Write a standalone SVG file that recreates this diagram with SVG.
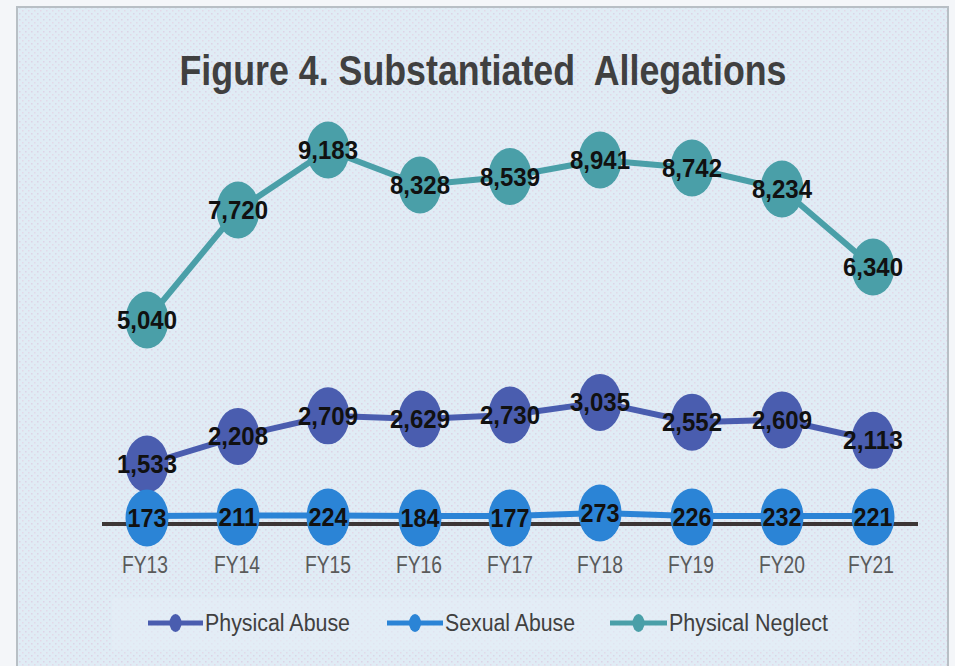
<svg xmlns="http://www.w3.org/2000/svg" width="955" height="666" viewBox="0 0 955 666">
<defs>
<pattern id="dots" x="0" y="0" width="6" height="6" patternUnits="userSpaceOnUse">
<rect width="6" height="6" fill="#e0ecf5"/>
<rect x="1" y="1" width="1.5" height="1.5" fill="#ddd3e6"/>
<rect x="4" y="4" width="1.5" height="1.5" fill="#e3d8e8"/>
</pattern>
<style>
.lbl{font-family:"Liberation Sans",Arial,sans-serif;font-size:25px;font-weight:bold;fill:#111;text-anchor:middle}
.ax{font-family:"Liberation Sans",Arial,sans-serif;font-size:24px;fill:#5a5a5a;text-anchor:middle}
.lg{font-family:"Liberation Sans",Arial,sans-serif;font-size:23px;fill:#404040}
.pn{fill:#4a9fa8}
.pa{fill:#4a5daf}
.sa{fill:#2b84d6}
.ln{fill:none;stroke-width:6;stroke-linejoin:round;stroke-linecap:round}
</style>
</defs>
<rect width="955" height="666" fill="#f4f6f9"/>
<rect x="17" y="7" width="931" height="680" fill="url(#dots)" stroke="#b8bfc5" stroke-width="2"/>
<text x="483" y="85" xml:space="preserve" textLength="607" lengthAdjust="spacingAndGlyphs" style="font-family:'Liberation Sans',Arial,sans-serif;font-size:42px;font-weight:bold;fill:#404040" text-anchor="middle">Figure 4. Substantiated  Allegations</text>
<rect x="112" y="598" width="746" height="52" fill="#e4eef6" opacity="0.6"/>
<line x1="102" y1="524" x2="918" y2="524" stroke="#3d3636" stroke-width="4"/>
<g id="connectors">
<polyline class="ln" stroke="#4a9fa8" points="147,320 238,210 328,150 420,185 510,176.5 600,160 692,168 782,189 873,267"/>
<polyline class="ln" stroke="#4a5daf" points="147,464 238,436.4 328,415.8 420,419 510,415 600,402.4 692,422.2 782,419.9 873,440.3"/>
<polyline class="ln" stroke="#2b84d6" points="147,516 238,515.5 328,515.5 420,516 510,516 600,513 692,516 782,516 873,516"/>
</g>
<g id="neglect">
<g id="pn13"><ellipse class="pn" cx="147" cy="320" rx="21.5" ry="28.5"/><text class="lbl" x="147" y="329" textLength="60" lengthAdjust="spacingAndGlyphs">5,040</text></g>
<g id="pn14"><ellipse class="pn" cx="238" cy="210" rx="21.5" ry="28.5"/><text class="lbl" x="238" y="219" textLength="60" lengthAdjust="spacingAndGlyphs">7,720</text></g>
<g id="pn15"><ellipse class="pn" cx="328" cy="150" rx="21.5" ry="28.5"/><text class="lbl" x="328" y="159" textLength="60" lengthAdjust="spacingAndGlyphs">9,183</text></g>
<g id="pn16"><ellipse class="pn" cx="420" cy="185" rx="21.5" ry="28.5"/><text class="lbl" x="420" y="194" textLength="60" lengthAdjust="spacingAndGlyphs">8,328</text></g>
<g id="pn17"><ellipse class="pn" cx="510" cy="176.5" rx="21.5" ry="28.5"/><text class="lbl" x="510" y="185.5" textLength="60" lengthAdjust="spacingAndGlyphs">8,539</text></g>
<g id="pn18"><ellipse class="pn" cx="600" cy="160" rx="21.5" ry="28.5"/><text class="lbl" x="600" y="169" textLength="60" lengthAdjust="spacingAndGlyphs">8,941</text></g>
<g id="pn19"><ellipse class="pn" cx="692" cy="168" rx="21.5" ry="28.5"/><text class="lbl" x="692" y="177" textLength="60" lengthAdjust="spacingAndGlyphs">8,742</text></g>
<g id="pn20"><ellipse class="pn" cx="782" cy="189" rx="21.5" ry="28.5"/><text class="lbl" x="782" y="198" textLength="60" lengthAdjust="spacingAndGlyphs">8,234</text></g>
<g id="pn21"><ellipse class="pn" cx="873" cy="267" rx="21.5" ry="28.5"/><text class="lbl" x="873" y="276" textLength="60" lengthAdjust="spacingAndGlyphs">6,340</text></g>
</g>
<g id="physical">
<g id="pa13"><ellipse class="pa" cx="147" cy="464" rx="21.5" ry="28.5"/><text class="lbl" x="147" y="473" textLength="60" lengthAdjust="spacingAndGlyphs">1,533</text></g>
<g id="pa14"><ellipse class="pa" cx="238" cy="436.4" rx="21.5" ry="28.5"/><text class="lbl" x="238" y="445.4" textLength="60" lengthAdjust="spacingAndGlyphs">2,208</text></g>
<g id="pa15"><ellipse class="pa" cx="328" cy="415.8" rx="21.5" ry="28.5"/><text class="lbl" x="328" y="424.8" textLength="60" lengthAdjust="spacingAndGlyphs">2,709</text></g>
<g id="pa16"><ellipse class="pa" cx="420" cy="419" rx="21.5" ry="28.5"/><text class="lbl" x="420" y="428" textLength="60" lengthAdjust="spacingAndGlyphs">2,629</text></g>
<g id="pa17"><ellipse class="pa" cx="510" cy="415" rx="21.5" ry="28.5"/><text class="lbl" x="510" y="424" textLength="60" lengthAdjust="spacingAndGlyphs">2,730</text></g>
<g id="pa18"><ellipse class="pa" cx="600" cy="402.4" rx="21.5" ry="28.5"/><text class="lbl" x="600" y="411.4" textLength="60" lengthAdjust="spacingAndGlyphs">3,035</text></g>
<g id="pa19"><ellipse class="pa" cx="692" cy="422.2" rx="21.5" ry="28.5"/><text class="lbl" x="692" y="431.2" textLength="60" lengthAdjust="spacingAndGlyphs">2,552</text></g>
<g id="pa20"><ellipse class="pa" cx="782" cy="419.9" rx="21.5" ry="28.5"/><text class="lbl" x="782" y="428.9" textLength="60" lengthAdjust="spacingAndGlyphs">2,609</text></g>
<g id="pa21"><ellipse class="pa" cx="873" cy="440.3" rx="21.5" ry="28.5"/><text class="lbl" x="873" y="449.3" textLength="60" lengthAdjust="spacingAndGlyphs">2,113</text></g>
</g>
<g id="sexual">
<g id="sa13"><ellipse class="sa" cx="147" cy="518" rx="21.5" ry="28.5"/><text class="lbl" x="147" y="527" textLength="39" lengthAdjust="spacingAndGlyphs">173</text></g>
<g id="sa14"><ellipse class="sa" cx="238" cy="517" rx="21.5" ry="28.5"/><text class="lbl" x="238" y="526" textLength="39" lengthAdjust="spacingAndGlyphs">211</text></g>
<g id="sa15"><ellipse class="sa" cx="328" cy="517" rx="21.5" ry="28.5"/><text class="lbl" x="328" y="526" textLength="39" lengthAdjust="spacingAndGlyphs">224</text></g>
<g id="sa16"><ellipse class="sa" cx="420" cy="518" rx="21.5" ry="28.5"/><text class="lbl" x="420" y="527" textLength="39" lengthAdjust="spacingAndGlyphs">184</text></g>
<g id="sa17"><ellipse class="sa" cx="510" cy="518" rx="21.5" ry="28.5"/><text class="lbl" x="510" y="527" textLength="39" lengthAdjust="spacingAndGlyphs">177</text></g>
<g id="sa18"><ellipse class="sa" cx="600" cy="513" rx="21.5" ry="28.5"/><text class="lbl" x="600" y="522" textLength="39" lengthAdjust="spacingAndGlyphs">273</text></g>
<g id="sa19"><ellipse class="sa" cx="692" cy="517" rx="21.5" ry="28.5"/><text class="lbl" x="692" y="526" textLength="39" lengthAdjust="spacingAndGlyphs">226</text></g>
<g id="sa20"><ellipse class="sa" cx="782" cy="517" rx="21.5" ry="28.5"/><text class="lbl" x="782" y="526" textLength="39" lengthAdjust="spacingAndGlyphs">232</text></g>
<g id="sa21"><ellipse class="sa" cx="873" cy="517" rx="21.5" ry="28.5"/><text class="lbl" x="873" y="526" textLength="39" lengthAdjust="spacingAndGlyphs">221</text></g>
</g>
<g id="axis-labels">
<text class="ax" x="145" y="573" textLength="46" lengthAdjust="spacingAndGlyphs">FY13</text>
<text class="ax" x="237" y="573" textLength="46" lengthAdjust="spacingAndGlyphs">FY14</text>
<text class="ax" x="328" y="573" textLength="46" lengthAdjust="spacingAndGlyphs">FY15</text>
<text class="ax" x="419" y="573" textLength="46" lengthAdjust="spacingAndGlyphs">FY16</text>
<text class="ax" x="510" y="573" textLength="46" lengthAdjust="spacingAndGlyphs">FY17</text>
<text class="ax" x="600" y="573" textLength="46" lengthAdjust="spacingAndGlyphs">FY18</text>
<text class="ax" x="691" y="573" textLength="46" lengthAdjust="spacingAndGlyphs">FY19</text>
<text class="ax" x="782" y="573" textLength="46" lengthAdjust="spacingAndGlyphs">FY20</text>
<text class="ax" x="871" y="573" textLength="46" lengthAdjust="spacingAndGlyphs">FY21</text>
</g>
<g id="legend">
<line x1="148" y1="623" x2="203" y2="623" stroke="#4a5daf" stroke-width="5"/>
<ellipse cx="175.5" cy="623" rx="6" ry="9" class="pa"/>
<text class="lg" x="205" y="631" textLength="145" lengthAdjust="spacingAndGlyphs">Physical Abuse</text>
<line x1="387" y1="623" x2="443" y2="623" stroke="#2b84d6" stroke-width="5"/>
<ellipse cx="415" cy="623" rx="6" ry="9" class="sa"/>
<text class="lg" x="445" y="631" textLength="130" lengthAdjust="spacingAndGlyphs">Sexual Abuse</text>
<line x1="610" y1="623" x2="667" y2="623" stroke="#4a9fa8" stroke-width="5"/>
<ellipse cx="638.5" cy="623" rx="6" ry="9" class="pn"/>
<text class="lg" x="669" y="631" textLength="159" lengthAdjust="spacingAndGlyphs">Physical Neglect</text>
</g>
</svg>
